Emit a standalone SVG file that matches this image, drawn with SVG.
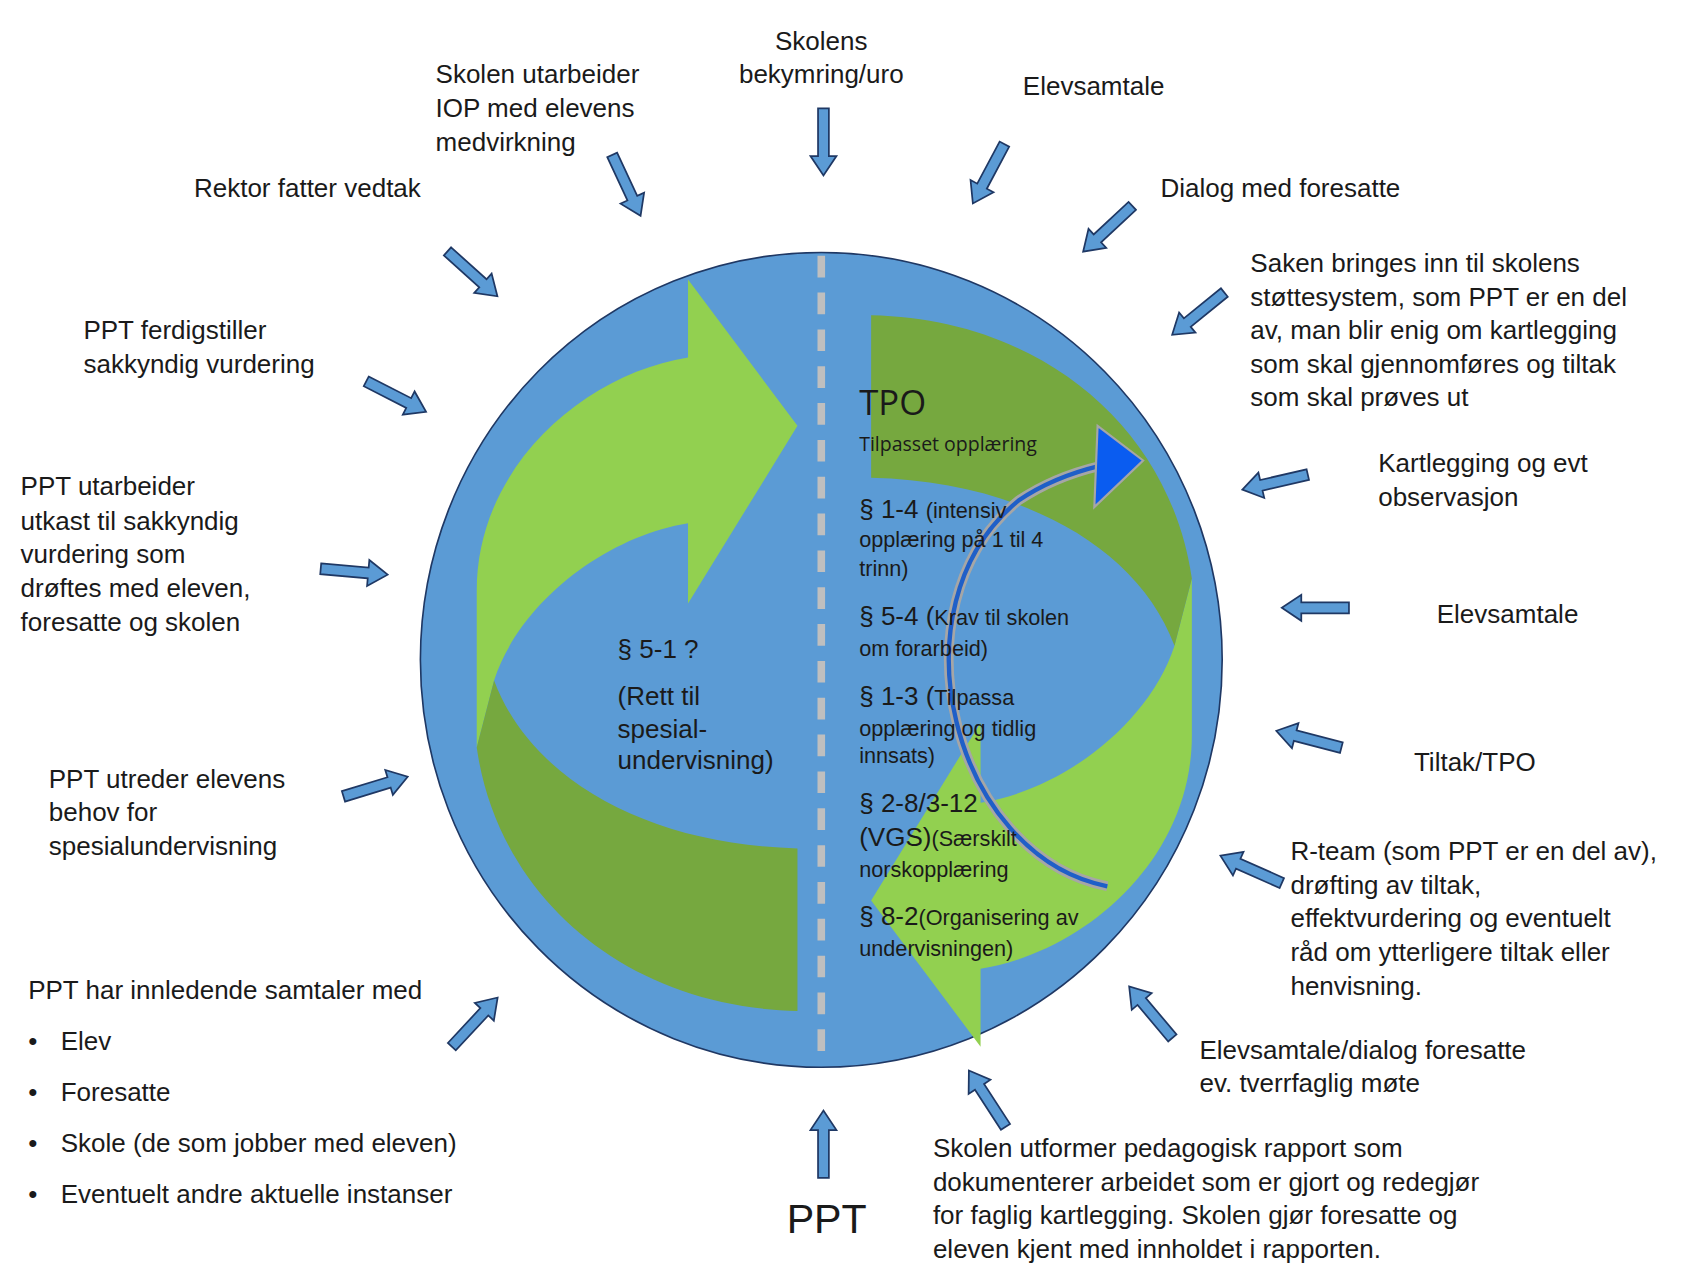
<svg xmlns="http://www.w3.org/2000/svg" xmlns:xlink="http://www.w3.org/1999/xlink" width="1699" height="1268" viewBox="0 0 1699 1268">
<style>
text{font-family:"Liberation Sans",Arial,sans-serif;font-size:24px;fill:#1a1a1a}
.s{font-size:20px}
.c{font-family:"Open Sans","Liberation Sans",sans-serif;font-size:19px}
.ba{fill:#5B9BD5;stroke:#1F3864;stroke-width:1.6}
</style>
<defs>
<path id="a" class="ba" d="M0,-5 L44,-5 L44,-12 L62,0 L44,12 L44,5 L0,5 Z"/>
<g id="arr">
<path fill="#92D050" d="M440,690 L440,545 C440,430 540,345 635,330 L635,258 L736,393 L635,557 L635,483 C560,495 480,555 456,628 Z"/>
<path fill="#76A83F" d="M456,628 C490,720 600,780 736,783 L736,933 C580,930 460,830 440,690 Z"/>
</g>
</defs>
<rect width="1699" height="1268" fill="#fff"/>
<g transform="scale(1.0835)">
<g id="cycle">
<ellipse cx="758" cy="609" rx="370" ry="376" fill="#5B9BD5" stroke="#1F3864" stroke-width="1.5"/>
<line x1="758" y1="236" x2="758" y2="984" stroke="#BFBFBF" stroke-width="7" stroke-dasharray="20,14"/>
<use href="#arr"/>
<use href="#arr" transform="rotate(180 770 612)"/>
<path d="M1022,818 C880,790 820,560 940,462 C965,445 990,436 1015,430" fill="none" stroke="#A6A6A6" stroke-width="9"/>
<path d="M1022,818 C880,790 820,560 940,462 C965,445 990,436 1015,430" fill="none" stroke="#1F5FC8" stroke-width="4"/>
<polygon points="1013,393 1055,425 1010,468" fill="#0A5CF0" stroke="#A6A6A6" stroke-width="2"/>
</g>
<g id="connectors">
<use href="#a" transform="translate(760,100) rotate(90)"/>
<use href="#a" transform="translate(565,143) rotate(65)"/>
<use href="#a" transform="translate(927,133) rotate(118)"/>
<use href="#a" transform="translate(1045,190) rotate(137)"/>
<use href="#a" transform="translate(1130,270) rotate(141)"/>
<use href="#a" transform="translate(413,232) rotate(42)"/>
<use href="#a" transform="translate(338,352) rotate(27)"/>
<use href="#a" transform="translate(296,525) rotate(5)"/>
<use href="#a" transform="translate(1207,438) rotate(167)"/>
<use href="#a" transform="translate(1245,561) rotate(180)"/>
<use href="#a" transform="translate(1238,690) rotate(-165.5)"/>
<use href="#a" transform="translate(1183,815) rotate(-156)"/>
<use href="#a" transform="translate(1082,958) rotate(-130)"/>
<use href="#a" transform="translate(928,1040) rotate(-123)"/>
<use href="#a" transform="translate(760,1087) rotate(-90)"/>
<use href="#a" transform="translate(317,735) rotate(-17)"/>
<use href="#a" transform="translate(417,966) rotate(-47)"/>
</g>
<g id="labels">
<text x="758" y="46" text-anchor="middle">Skolens</text>
<text x="758" y="77" text-anchor="middle">bekymring/uro</text>
<text x="402" y="77">Skolen utarbeider</text><text x="402" y="108">IOP med elevens</text><text x="402" y="139">medvirkning</text>
<text x="944" y="88">Elevsamtale</text>
<text x="179" y="182">Rektor fatter vedtak</text>
<text x="1071" y="182">Dialog med foresatte</text>
<text x="1154" y="251">Saken bringes inn til skolens</text><text x="1154" y="282">støttesystem, som PPT er en del</text><text x="1154" y="313">av, man blir enig om kartlegging</text><text x="1154" y="344">som skal gjennomføres og tiltak</text><text x="1154" y="375">som skal prøves ut</text>
<text x="77" y="313">PPT ferdigstiller</text><text x="77" y="344">sakkyndig vurdering</text>
<text x="1272" y="436">Kartlegging og evt</text><text x="1272" y="467">observasjon</text>
<text x="19" y="457">PPT utarbeider</text><text x="19" y="489">utkast til sakkyndig</text><text x="19" y="520">vurdering som</text><text x="19" y="551">drøftes med eleven,</text><text x="19" y="582">foresatte og skolen</text>
<text x="1326" y="575">Elevsamtale</text>
<text x="1305" y="712">Tiltak/TPO</text>
<text x="45" y="727">PPT utreder elevens</text><text x="45" y="758">behov for</text><text x="45" y="789">spesialundervisning</text>
<text x="1191" y="794">R-team (som PPT er en del av),</text><text x="1191" y="825">drøfting av tiltak,</text><text x="1191" y="856">effektvurdering og  eventuelt</text><text x="1191" y="887">råd om ytterligere tiltak eller</text><text x="1191" y="918">henvisning.</text>
<text x="26" y="922">PPT har innledende samtaler med</text>
<text x="26" y="969">•</text><text x="56" y="969">Elev</text>
<text x="26" y="1016">•</text><text x="56" y="1016">Foresatte</text>
<text x="26" y="1063">•</text><text x="56" y="1063">Skole (de som jobber med eleven)</text>
<text x="26" y="1110">•</text><text x="56" y="1110">Eventuelt andre aktuelle instanser</text>
<text x="1107" y="977">Elevsamtale/dialog foresatte</text><text x="1107" y="1008">ev. tverrfaglig møte</text>
<text x="861" y="1068">Skolen utformer pedagogisk rapport som</text><text x="861" y="1099">dokumenterer arbeidet som er gjort og redegjør</text><text x="861" y="1130">for faglig kartlegging. Skolen gjør foresatte og</text><text x="861" y="1161">eleven kjent med innholdet i rapporten.</text>
<text x="763" y="1138" text-anchor="middle" style="font-size:38px">PPT</text>
<text x="570" y="607">§ 5-1 ?</text><text x="570" y="651">(Rett til</text><text x="570" y="681">spesial-</text><text x="570" y="710">undervisning)</text>
<text x="793" y="383" class="c" style="font-size:32px">TPO</text>
<text x="793" y="416" class="c" style="font-size:18px">Tilpasset opplæring</text>
<text x="793" y="478">§ 1-4 <tspan class="s">(intensiv</tspan></text><text x="793" y="505" class="s">opplæring på 1 til 4</text><text x="793" y="532" class="s">trinn)</text>
<text x="793" y="577">§ 5-4 (<tspan class="s">Krav til skolen</tspan></text><text x="793" y="605" class="s">om forarbeid)</text>
<text x="793" y="651">§ 1-3 (<tspan class="s">Tilpassa</tspan></text><text x="793" y="679" class="s">opplæring og tidlig</text><text x="793" y="704" class="s">innsats)</text>
<text x="793" y="749">§ 2-8/3-12</text><text x="793" y="781">(VGS)<tspan class="s">(Særskilt</tspan></text><text x="793" y="809" class="s">norskopplæring</text>
<text x="793" y="854">§ 8-2<tspan class="s">(Organisering av</tspan></text><text x="793" y="882" class="s">undervisningen)</text>
</g>
</g>
</svg>
